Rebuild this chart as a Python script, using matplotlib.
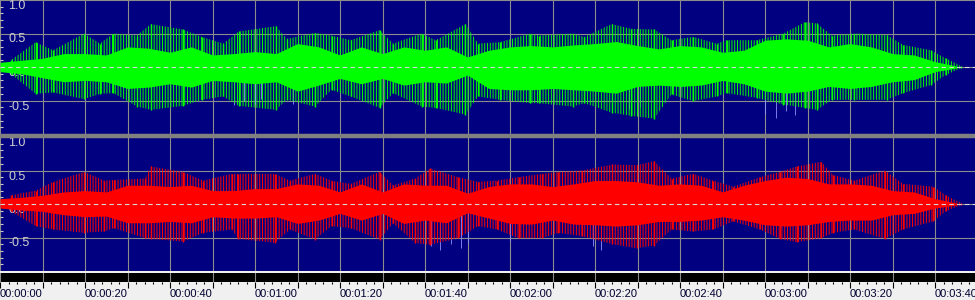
import matplotlib
matplotlib.use("Agg")
import matplotlib.pyplot as plt
from matplotlib.patches import Rectangle
from matplotlib.ticker import MultipleLocator, FuncFormatter

plt.rcParams['font.family'] = ['Liberation Sans', 'DejaVu Sans']
plt.rcParams['hatch.linewidth'] = 0.7

# visible span of the track, seconds
x_end = 229.4

# envelope readings, one every 5 s (window start)
env_t = list(range(0, 230, 5))

# left channel (green, top)
left_body_hi = [0.07, 0.10, 0.13, 0.20, 0.20, 0.18, 0.30, 0.28, 0.22, 0.30, 0.18, 0.20,
                0.23, 0.20, 0.35, 0.30, 0.18, 0.30, 0.20, 0.30, 0.25, 0.30, 0.15, 0.25,
                0.30, 0.32, 0.30, 0.33, 0.35, 0.38, 0.32, 0.27, 0.32, 0.30, 0.22, 0.25,
                0.40, 0.42, 0.40, 0.30, 0.35, 0.30, 0.20, 0.18, 0.08, 0.015]
left_body_lo = [-0.07, -0.10, -0.16, -0.22, -0.20, -0.22, -0.32, -0.30, -0.25, -0.30, -0.20, -0.22,
                -0.25, -0.22, -0.36, -0.27, -0.17, -0.25, -0.17, -0.27, -0.22, -0.24, -0.12, -0.32,
                -0.34, -0.34, -0.32, -0.34, -0.36, -0.39, -0.29, -0.27, -0.29, -0.27, -0.20, -0.25,
                -0.36, -0.39, -0.36, -0.29, -0.32, -0.29, -0.22, -0.19, -0.07, -0.015]
left_peak_t = [2.5, 8.4, 12.5, 19.8, 23.5, 26.7, 32.2, 35.5, 43.0, 47.5, 52.5, 56.2,
               64.9, 67.5, 74.1, 78.0, 82.5, 89.3, 92.5, 99.2, 102.5, 109.5, 112.5, 117.6,
               124.8, 126.7, 134.7, 137.5, 143.9, 148.5, 153.9, 158.0, 163.1, 168.6, 171.0, 178.0,
               184.3, 189.4, 192.2, 195.7, 201.0, 208.6, 212.5, 219.0, 222.5, 226.0]
left_peak_hi = [0.10, 0.37, 0.25, 0.50, 0.35, 0.50, 0.47, 0.64, 0.56, 0.45, 0.35, 0.53,
                0.61, 0.42, 0.51, 0.47, 0.40, 0.55, 0.35, 0.50, 0.40, 0.64, 0.35, 0.37,
                0.50, 0.47, 0.50, 0.45, 0.64, 0.57, 0.56, 0.40, 0.45, 0.35, 0.40, 0.40,
                0.50, 0.67, 0.65, 0.47, 0.50, 0.48, 0.33, 0.25, 0.13, 0.02]
left_peak_lo = [-0.10, -0.40, -0.38, -0.48, -0.40, -0.39, -0.59, -0.64, -0.58, -0.49, -0.44, -0.58,
                -0.64, -0.49, -0.59, -0.34, -0.44, -0.61, -0.39, -0.59, -0.61, -0.71, -0.44, -0.49,
                -0.54, -0.54, -0.59, -0.54, -0.68, -0.73, -0.77, -0.41, -0.51, -0.44, -0.39, -0.46,
                -0.56, -0.61, -0.64, -0.49, -0.49, -0.49, -0.39, -0.27, -0.12, -0.02]

# right channel (red, bottom)
right_body_hi = [0.08, 0.10, 0.13, 0.18, 0.20, 0.18, 0.28, 0.28, 0.26, 0.28, 0.20, 0.20,
                 0.23, 0.23, 0.30, 0.28, 0.18, 0.30, 0.18, 0.30, 0.28, 0.28, 0.16, 0.26,
                 0.30, 0.30, 0.26, 0.30, 0.35, 0.35, 0.33, 0.28, 0.30, 0.28, 0.18, 0.28,
                 0.35, 0.40, 0.38, 0.30, 0.30, 0.28, 0.20, 0.18, 0.08, 0.015]
right_body_lo = [-0.06, -0.09, -0.11, -0.16, -0.19, -0.18, -0.28, -0.28, -0.26, -0.28, -0.19, -0.21,
                 -0.21, -0.19, -0.29, -0.24, -0.14, -0.24, -0.14, -0.29, -0.24, -0.28, -0.13, -0.21,
                 -0.29, -0.30, -0.24, -0.30, -0.31, -0.33, -0.31, -0.26, -0.26, -0.24, -0.19, -0.24,
                 -0.31, -0.33, -0.31, -0.26, -0.24, -0.24, -0.16, -0.14, -0.06, -0.015]
right_peak_t = [2.5, 8.4, 12.5, 19.8, 24.5, 26.8, 34.1, 35.5, 43.0, 47.8, 54.5, 56.1,
                64.7, 68.2, 74.1, 78.0, 82.5, 89.3, 92.5, 97.7, 101.2, 107.8, 112.5, 116.9,
                122.0, 127.5, 131.4, 136.9, 144.1, 149.8, 153.9, 158.0, 163.1, 167.8, 172.5, 178.8,
                183.5, 187.5, 193.2, 196.1, 201.0, 208.2, 212.5, 219.6, 222.5, 226.0]
right_peak_hi = [0.13, 0.20, 0.33, 0.48, 0.35, 0.36, 0.38, 0.56, 0.48, 0.35, 0.45, 0.45,
                 0.45, 0.35, 0.45, 0.35, 0.30, 0.48, 0.28, 0.38, 0.53, 0.40, 0.33, 0.35,
                 0.40, 0.45, 0.48, 0.50, 0.59, 0.58, 0.64, 0.38, 0.45, 0.35, 0.26, 0.40,
                 0.48, 0.56, 0.63, 0.43, 0.35, 0.50, 0.30, 0.26, 0.13, 0.02]
right_peak_lo = [-0.11, -0.33, -0.38, -0.43, -0.41, -0.36, -0.51, -0.52, -0.56, -0.43, -0.38, -0.52,
                 -0.58, -0.38, -0.53, -0.33, -0.36, -0.53, -0.29, -0.58, -0.61, -0.51, -0.33, -0.38,
                 -0.51, -0.51, -0.43, -0.48, -0.60, -0.66, -0.62, -0.38, -0.41, -0.38, -0.26, -0.38,
                 -0.52, -0.57, -0.51, -0.43, -0.38, -0.52, -0.38, -0.26, -0.11, -0.02]

# faint (lavender) peak traces showing past the coloured waveform
left_faint_t = [55.0, 57.5, 60.0, 61.5, 69.0, 148.0, 150.5, 180.0, 182.5, 185.0, 187.0]
left_faint_lo = [-0.57, -0.50, -0.55, -0.48, -0.55, -0.62, -0.60, -0.70, -0.76, -0.66, -0.72]
right_faint_t = [101.5, 103.5, 106.0, 108.5, 110.0, 139.5, 141.5, 120.0]
right_faint_lo = [-0.62, -0.68, -0.60, -0.66, -0.58, -0.62, -0.68, -0.55]

W, H = 975, 300
fig = plt.figure(figsize=(W / 100, H / 100), dpi=100, facecolor='#f0f0f0')


def px_box(top, bottom):
    return [0, (H - bottom) / H, 1, (bottom - top) / H]


def setup_channel(ax):
    ax.set_facecolor('#000080')
    ax.set_xlim(0, x_end)
    ax.set_ylim(-1, 1)
    ax.xaxis.set_major_locator(MultipleLocator(10))
    ax.yaxis.set_major_locator(MultipleLocator(0.5))
    ax.yaxis.set_minor_locator(MultipleLocator(0.1))
    ax.yaxis.set_major_formatter(FuncFormatter(lambda v, p: '' if v < -0.9 else f'{v:.1f}'))
    ax.grid(True, which='major', color='#8c8c8c', lw=0.8)
    ax.set_axisbelow(True)
    ax.tick_params(axis='x', bottom=False, labelbottom=False)
    ax.tick_params(axis='y', which='minor', direction='in', color='#c8c8c8', length=2, width=0.8)
    ax.tick_params(axis='y', which='major', direction='in', length=0, pad=-6,
                   labelcolor='#d0d0d0', labelsize=9)
    for s in ax.spines.values():
        s.set_visible(False)
    plt.setp(ax.get_yticklabels(), ha='left', va='top')


def draw_channel(ax, col, body_lo, body_hi, pk_t, pk_lo, pk_hi, f_t, f_lo):
    ax.vlines(f_t, f_lo, 0, color='#9090ff', lw=0.6, zorder=2)
    # dense spikes between the solid core and the peak envelope
    ax.fill_between(pk_t, pk_lo, pk_hi, facecolor='none', edgecolor=col,
                    hatch='||||||', lw=0, zorder=3)
    ax.fill_between(env_t, body_lo, body_hi, color=col, lw=0, zorder=3)
    ax.vlines(pk_t, pk_lo, pk_hi, color=col, lw=1.0, zorder=3)
    ax.axhline(0, color='#d8d8d8', lw=0.8, dashes=(4, 3), zorder=4)


ax_l = fig.add_axes(px_box(0, 134))
ax_r = fig.add_axes(px_box(137, 271))
for ax in (ax_l, ax_r):
    setup_channel(ax)

draw_channel(ax_l, '#00ff00', left_body_lo, left_body_hi,
             left_peak_t, left_peak_lo, left_peak_hi, left_faint_t, left_faint_lo)
draw_channel(ax_r, '#ff0000', right_body_lo, right_body_hi,
             right_peak_t, right_peak_lo, right_peak_hi, right_faint_t, right_faint_lo)

# grey bar between the two channels
fig.patches.append(Rectangle((0, (H - 137) / H), 1, 3 / H, transform=fig.transFigure,
                             color='#808080', zorder=5))

# time ruler
tax = fig.add_axes(px_box(272.5, 282))
tax.set_facecolor('black')
tax.set_xlim(0, x_end)
tax.set_ylim(0, 1)
tax.set_yticks([])
tax.xaxis.set_major_locator(MultipleLocator(10))
tax.xaxis.set_minor_locator(MultipleLocator(2))


def fmt_time(v, pos):
    s = int(round(v))
    if s % 20:
        return ''
    return f'{s // 3600:02d}:{s // 60 % 60:02d}:{s % 60:02d}'


tax.xaxis.set_major_formatter(FuncFormatter(fmt_time))
tax.tick_params(axis='x', which='major', length=4, width=0.8, color='black', pad=1,
                labelsize=8, labelcolor='#000030')
tax.tick_params(axis='x', which='minor', length=1.5, width=0.8, color='black')
tax.grid(True, axis='x', which='major', color='#8c8c8c', lw=0.8)
for s in tax.spines.values():
    s.set_visible(False)
plt.setp(tax.get_xticklabels(), ha='left')

fig.savefig('out.png', dpi=100, facecolor=fig.get_facecolor())
